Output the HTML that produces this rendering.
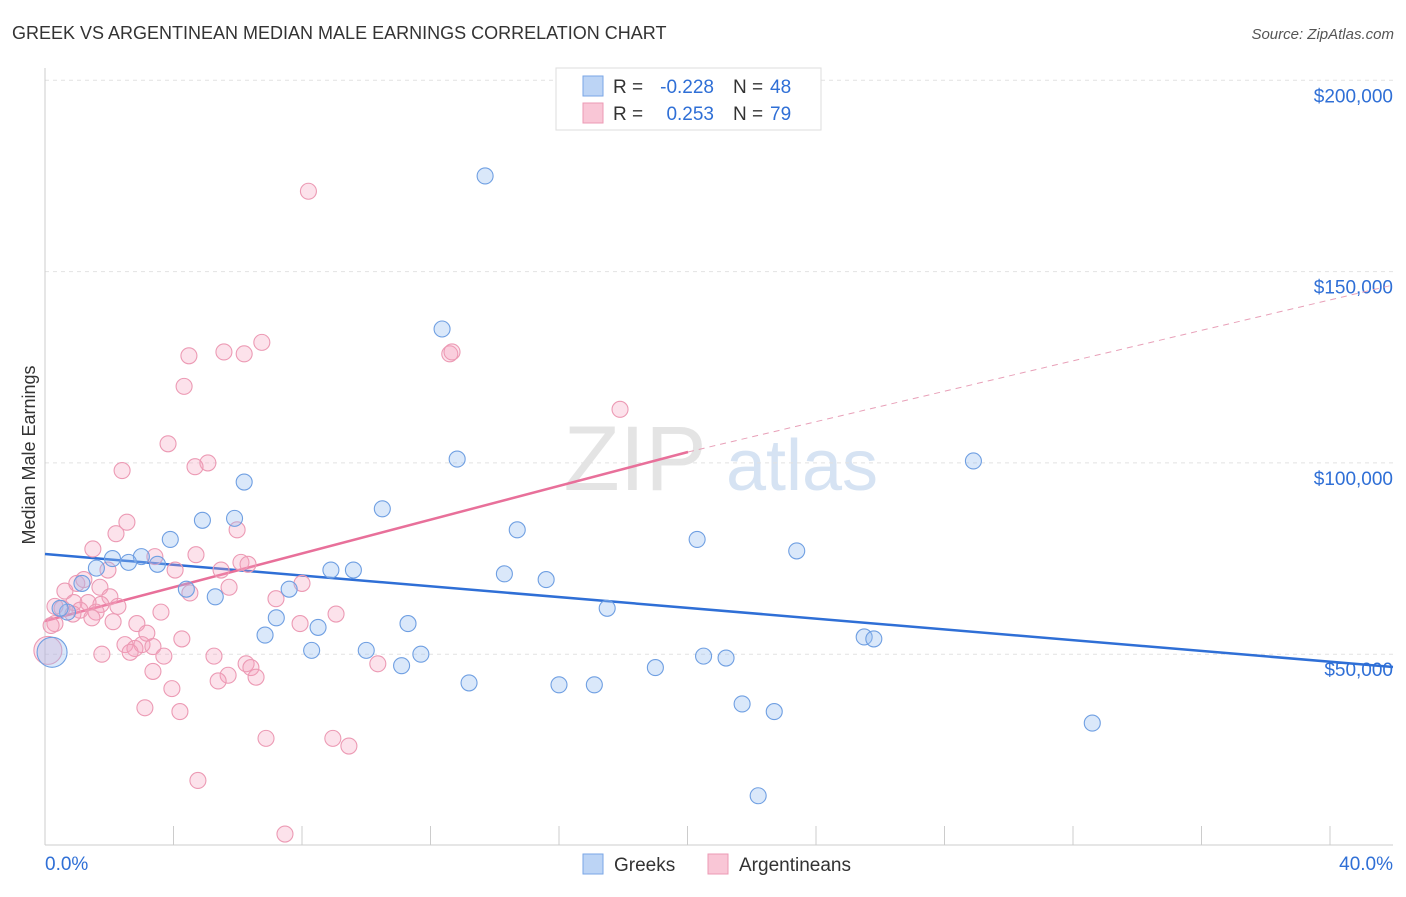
<!DOCTYPE html>
<html><head><meta charset="utf-8"><style>
body{margin:0;background:#fff;font-family:"Liberation Sans",sans-serif;}
svg text{font-family:"Liberation Sans",sans-serif;}
</style></head><body>
<svg id="chart" width="1406" height="892" xmlns="http://www.w3.org/2000/svg">
<text x="12" y="39" font-size="18" fill="#333">GREEK VS ARGENTINEAN MEDIAN MALE EARNINGS CORRELATION CHART</text>
<text x="1394" y="39" font-size="15" fill="#555" font-style="italic" text-anchor="end">Source: ZipAtlas.com</text>
<text x="35" y="455" font-size="18" fill="#333" text-anchor="middle" transform="rotate(-90 35 455)">Median Male Earnings</text>
<g><text x="635" y="490" font-size="92" fill="#e4e4e4" font-family="Liberation Serif" text-anchor="middle">ZIP</text><text x="802" y="490" font-size="72" fill="#d6e3f3" text-anchor="middle">atlas</text></g>
<g id="grid"></g><g id="axes"></g><g id="lines"></g><g id="points"></g>
<g>
<rect x="556" y="68" width="265" height="62" fill="#fff" stroke="#ddd"/>
<rect x="583" y="76" width="20" height="20" fill="#bcd4f5" stroke="#7aa6e6"/>
<rect x="583" y="103" width="20" height="20" fill="#f9c6d6" stroke="#ec9ab4"/>
<text x="613" y="93" font-size="19" fill="#333">R =</text>
<text x="714" y="93" font-size="19" fill="#2f6fd6" text-anchor="end">-0.228</text>
<text x="733" y="93" font-size="19" fill="#333">N =</text>
<text x="770" y="93" font-size="19" fill="#2f6fd6">48</text>
<text x="613" y="120" font-size="19" fill="#333">R =</text>
<text x="714" y="120" font-size="19" fill="#2f6fd6" text-anchor="end">0.253</text>
<text x="733" y="120" font-size="19" fill="#333">N =</text>
<text x="770" y="120" font-size="19" fill="#2f6fd6">79</text>
</g>
<g>
<rect x="583" y="854" width="20" height="20" fill="#bcd4f5" stroke="#7aa6e6"/>
<text x="614" y="871" font-size="19" fill="#333">Greeks</text>
<rect x="708" y="854" width="20" height="20" fill="#f9c6d6" stroke="#ec9ab4"/>
<text x="739" y="871" font-size="19" fill="#333">Argentineans</text>
</g>
</svg>
<script>
const yTicks=[50000,100000,150000,200000];
const yTickLabels=["$50,000","$100,000","$150,000","$200,000"];
const xTickVals=[0,4,8,12,16,20,24,28,32,36,40];
const greekX=[13.7,12.36,12.83,28.9,6.2,10.5,4.9,5.9,14.7,3.9,20.3,23.4,2.1,3.0,3.5,2.6,1.6,8.9,9.6,14.3,15.6,1.15,4.4,7.6,5.3,17.5,0.7,0.47,7.2,11.3,8.5,6.85,25.5,25.8,8.3,10.0,11.7,20.5,21.2,11.1,19.0,13.2,16.0,17.1,21.7,22.7,32.6,22.2,0.22];
const greekY=[175000,135000,101000,100500,95000,88000,85000,85500,82500,80000,80000,77000,75000,75500,73500,74000,72500,72000,72000,71000,69500,68500,67000,67000,65000,62000,61000,62000,59500,58000,57000,55000,54500,54000,51000,51000,50000,49500,49000,47000,46500,42500,42000,42000,37000,35000,32000,13000,50500];
const argX=[8.2,6.75,5.57,4.48,6.2,12.6,12.67,4.33,17.9,3.83,5.07,4.67,2.4,2.55,5.98,2.21,1.49,3.42,4.7,6.1,6.32,1.96,4.05,5.48,5.73,8.0,7.19,4.51,0.99,0.62,1.21,1.71,2.02,1.74,2.27,1.34,0.9,0.53,0.31,1.09,1.59,1.46,0.87,0.31,0.19,3.61,9.06,7.94,2.86,2.12,3.17,4.26,2.49,3.02,3.36,2.8,2.65,1.77,3.7,5.26,6.26,6.41,10.36,3.36,5.7,5.39,6.57,3.95,3.11,4.2,6.88,8.96,9.46,4.76,7.47,0.09];
const argY=[171000,131500,129000,128000,128500,128500,129000,120000,114000,105000,100000,99000,98000,84500,82500,81500,77500,75500,76000,74000,73500,72000,72000,72000,67500,68500,64500,66000,68500,66500,69500,67500,65000,63000,62500,63500,63500,62000,62500,61500,61000,59500,60500,58000,57500,61000,60500,58000,58000,58500,55500,54000,52500,52500,52000,51500,50500,50000,49500,49500,47500,46500,47500,45500,44500,43000,44000,41000,36000,35000,28000,28000,26000,17000,3000,51000];
const X=v=>45+v/40*1285, Y=v=>845.5-v/50000*191.3;
const NS="http://www.w3.org/2000/svg";
function mk(tag,attrs,parent){const e=document.createElementNS(NS,tag);for(const k in attrs)e.setAttribute(k,attrs[k]);parent.appendChild(e);return e;}
const grid=document.getElementById('grid'),axes=document.getElementById('axes'),lines=document.getElementById('lines'),pts=document.getElementById('points');
yTicks.forEach((t,i)=>{
 const l=mk('line',{x1:45,x2:1393,y1:Y(t),y2:Y(t),stroke:'#e2e2e2','stroke-dasharray':'4,4'},grid);
 
 
 const tx=mk('text',{x:1393,y:Y(t)+22,'font-size':19,fill:'#2f6fd6','text-anchor':'end'},axes);
 tx.textContent=yTickLabels[i];
 
 
});
const ax=mk('line',{x1:45,x2:45,y1:68,y2:845,stroke:'#ccc'},axes);


const bx=mk('line',{x1:45,x2:1393,y1:845,y2:845,stroke:'#ccc'},axes);


xTickVals.forEach(v=>{const t=mk('line',{x1:X(v),x2:X(v),y1:826,y2:845,stroke:'#ccc'},axes);
 
 });
const x0=mk('text',{x:45,y:870,'font-size':19,fill:'#2f6fd6'},axes);x0.textContent='0.0%';


const x1=mk('text',{x:1393,y:870,'font-size':19,fill:'#2f6fd6','text-anchor':'end'},axes);x1.textContent='40.0%';


const bl=mk('line',{x1:45,y1:554,x2:1393,y2:667,stroke:'#2f6fd6','stroke-width':2.5},lines);


const pl=mk('line',{x1:45,y1:621,x2:688,y2:452,stroke:'#e8709a','stroke-width':2.5},lines);


const pd=mk('line',{x1:688,y1:452,x2:1393,y2:285,stroke:'#e8a0b8','stroke-width':1,'stroke-dasharray':'6,5'},lines);


argX.forEach((v,i)=>{const r=i==argX.length-1?14:8;
 const c=mk('circle',{cx:X(v),cy:Y(argY[i]),r:r,fill:'rgba(245,160,190,0.3)',stroke:'#ec9ab4','stroke-width':1.1},pts);
 
 });
greekX.forEach((v,i)=>{const r=i==greekX.length-1?15:8;
 const c=mk('circle',{cx:X(v),cy:Y(greekY[i]),r:r,fill:'rgba(150,190,240,0.35)',stroke:'#6f9fe2','stroke-width':1.1},pts);
 
 });
</script>
</body></html>
